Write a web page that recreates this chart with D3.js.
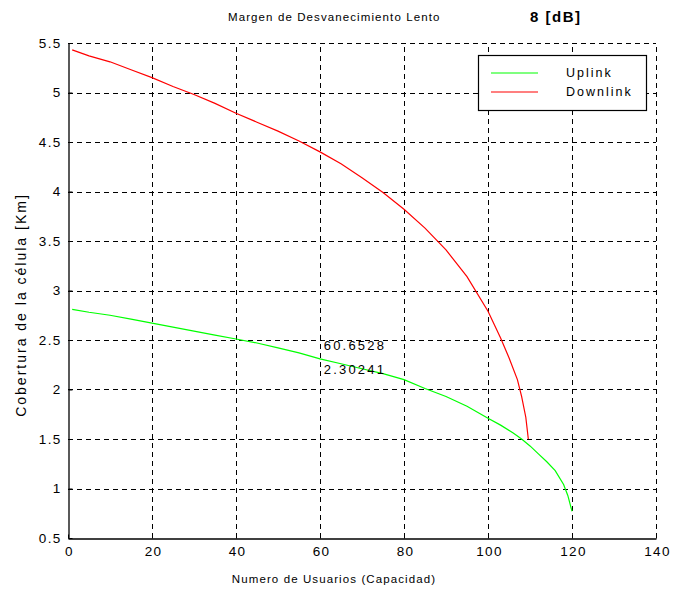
<!DOCTYPE html>
<html>
<head>
<meta charset="utf-8">
<script src="https://cdn.jsdelivr.net/npm/d3@7"></script>
<style>
  html, body { margin: 0; padding: 0; background: #fff; }
  svg { display: block; }
  text { font-family: "Liberation Sans", Arial, sans-serif; fill: #000; }
</style>
</head>
<body>
<svg id="chart" width="691" height="592"></svg>
<script>
// Uplink coverage vs. number of users
const uplinkX = [1, 5, 10, 15, 20, 25, 30, 35, 40, 45, 50, 55, 60, 65, 70, 75, 80, 85, 90, 95, 100, 103, 106, 108, 110, 112, 114, 116, 118, 119, 120];
const uplinkY = [2.81, 2.78, 2.75, 2.71, 2.67, 2.63, 2.59, 2.55, 2.51, 2.47, 2.42, 2.37, 2.31, 2.26, 2.21, 2.16, 2.10, 2.01, 1.93, 1.83, 1.71, 1.64, 1.56, 1.50, 1.43, 1.35, 1.27, 1.18, 1.04, 0.93, 0.77];

// Downlink coverage vs. number of users
const downlinkX = [1, 3, 5, 10, 15, 20, 25, 30, 35, 40, 45, 50, 55, 60, 65, 70, 75, 80, 85, 90, 95, 100, 103, 105, 107, 108, 109, 109.6];
const downlinkY = [5.43, 5.40, 5.37, 5.31, 5.23, 5.15, 5.06, 4.98, 4.89, 4.79, 4.70, 4.61, 4.51, 4.40, 4.28, 4.14, 3.99, 3.82, 3.63, 3.41, 3.14, 2.79, 2.52, 2.32, 2.10, 1.93, 1.72, 1.50];

const xTicks = [0, 20, 40, 60, 80, 100, 120, 140];
const yTicks = [0.5, 1, 1.5, 2, 2.5, 3, 3.5, 4, 4.5, 5, 5.5];
const seriesNames = ["Uplink", "Downlink"];
const seriesColors = ["#00ff00", "#ff0000"];

// Data-tip annotation on the uplink curve
const markerX = 60.6528;
const markerY = 2.30241;

const titleText = "Margen de Desvanecimiento Lento";
const marginText = "8 [dB]";
const xLabel = "Numero de Usuarios (Capacidad)";
const yLabel = "Cobertura de la célula [Km]";

const plotLeft = 68, plotRight = 656, plotTop = 43, plotBottom = 538;

const svg = d3.select("#chart");
const x = d3.scaleLinear().domain([0, 140]).range([plotLeft, plotRight]);
const y = d3.scaleLinear().domain([0.5, 5.5]).range([plotBottom, plotTop]);

// dashed grid
const grid = svg.append("g").attr("stroke", "#000").attr("stroke-width", 1)
  .attr("stroke-dasharray", "5,4").attr("shape-rendering", "crispEdges");
grid.selectAll("line.vx").data(xTicks.slice(1)).join("line")
  .attr("x1", d => Math.round(x(d)) + 0.5).attr("x2", d => Math.round(x(d)) + 0.5)
  .attr("y1", plotBottom).attr("y2", plotTop);
grid.selectAll("line.hy").data(yTicks.slice(1)).join("line")
  .attr("x1", plotLeft).attr("x2", plotRight)
  .attr("y1", d => Math.round(y(d)) + 0.5).attr("y2", d => Math.round(y(d)) + 0.5);

// axes
const xAxis = d3.axisBottom(x).tickValues(xTicks).tickSize(0).tickPadding(8).tickFormat(d3.format("d"));
const yAxis = d3.axisLeft(y).tickValues(yTicks).tickSize(0).tickPadding(7).tickFormat(d => String(d));

const gx = svg.append("g").attr("transform", `translate(0,${plotBottom + 0.5})`).call(xAxis);
const gy = svg.append("g").attr("transform", `translate(${plotLeft + 0.5},0)`).call(yAxis);
[gx, gy].forEach(g => {
  g.select(".domain").attr("stroke", "#000").attr("stroke-width", 1.3);
  g.selectAll("text").attr("font-size", 13.5).attr("fill", "#000").attr("letter-spacing", 1.3)
    .attr("font-family", "'Liberation Sans', Arial, sans-serif");
});
gx.selectAll("text").attr("dx", 1);
// small tick marks on the axes
gx.selectAll(".tick").append("line").attr("y1", 0).attr("y2", -4).attr("stroke", "#000");
gy.selectAll(".tick").append("line").attr("x1", 0).attr("x2", 4).attr("stroke", "#000");

// curves
const line = d3.line().x(d => x(d[0])).y(d => y(d[1]));
const series = [d3.zip(uplinkX, uplinkY), d3.zip(downlinkX, downlinkY)];
svg.append("g").selectAll("path").data(series).join("path")
  .attr("d", line).attr("fill", "none")
  .attr("stroke", (d, i) => seriesColors[i]).attr("stroke-width", 1.2);

// annotation text
const ann = svg.append("g").attr("font-size", 13).attr("letter-spacing", 2.2);
ann.append("text").attr("x", x(markerX) + 1).attr("y", y(markerY) - 10).text(String(markerX));
ann.append("text").attr("x", x(markerX) + 1).attr("y", y(markerY) + 14).text(String(markerY));

// legend
const lg = svg.append("g");
lg.append("rect").attr("x", 478.5).attr("y", 55.5).attr("width", 168).attr("height", 55)
  .attr("fill", "#fff").attr("stroke", "#000").attr("stroke-width", 1.2);
seriesNames.forEach((name, i) => {
  const yy = 73 + i * 19;
  lg.append("line").attr("x1", 491).attr("x2", 538).attr("y1", yy).attr("y2", yy)
    .attr("stroke", seriesColors[i]).attr("stroke-width", 1.2);
  lg.append("text").attr("x", 566).attr("y", yy + 4).attr("font-size", 12.5)
    .attr("letter-spacing", 2).text(name);
});

// titles
svg.append("text").attr("x", 228).attr("y", 21).attr("font-size", 11.5)
  .attr("letter-spacing", 1.1).text(titleText);
svg.append("text").attr("x", 530).attr("y", 22).attr("font-size", 15)
  .attr("font-weight", "bold").attr("letter-spacing", 1.5).text(marginText);
svg.append("text").attr("x", (plotLeft + plotRight) / 2 - 28).attr("y", 583).attr("text-anchor", "middle")
  .attr("font-size", 11.5).attr("letter-spacing", 1.1).text(xLabel);
svg.append("text").attr("transform", "translate(26,305) rotate(-90)")
  .attr("text-anchor", "middle").attr("font-size", 14).attr("letter-spacing", 2).text(yLabel);
</script>
</body>
</html>
